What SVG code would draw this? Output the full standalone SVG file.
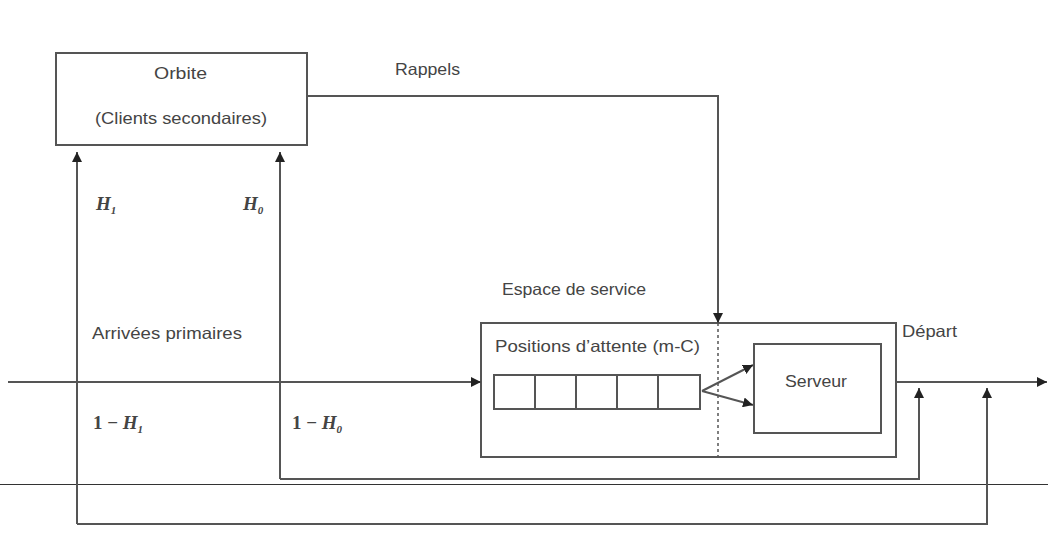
<svg xmlns="http://www.w3.org/2000/svg" width="1048" height="534" viewBox="0 0 1048 534">
<style>
.ln{fill:none;stroke:#555;stroke-width:2}
.bx{fill:#fff;stroke:#555;stroke-width:2}
.fr{fill:none;stroke:#555;stroke-width:2}
.t{font-family:"Liberation Sans",Arial,sans-serif;font-size:16.5px;fill:#444}
.m{font-family:"Liberation Serif","Times New Roman",serif;font-style:italic;font-weight:bold;font-size:19px;fill:#444}
.n{font-family:"Liberation Serif","Times New Roman",serif;font-weight:bold;font-size:19px;fill:#444}
.s{font-size:11px}
</style>
<defs>
<marker id="ah" viewBox="0 0 10 10" refX="10" refY="5" markerWidth="5" markerHeight="5" orient="auto" markerUnits="strokeWidth">
<path d="M0,0 L10,5 L0,10 z" fill="#222"/>
</marker>
</defs>
<rect width="1048" height="534" fill="#fff"/>
<line x1="0" y1="484.5" x2="1048" y2="484.5" stroke="#333" stroke-width="1"/>
<g id="orbite">
<rect class="bx" x="56" y="53" width="251" height="92"/>
<text class="t" x="154" y="79" textLength="53" lengthAdjust="spacingAndGlyphs">Orbite</text>
<text class="t" x="95" y="124" textLength="172" lengthAdjust="spacingAndGlyphs">(Clients secondaires)</text>
</g>
<g id="espace-service">
<rect class="fr" x="481" y="323" width="415" height="134"/>
<line x1="718" y1="323" x2="718" y2="457" stroke="#555" stroke-width="1.5" stroke-dasharray="3,3"/>
<text class="t" x="502" y="295" textLength="144" lengthAdjust="spacingAndGlyphs">Espace de service</text>
<text class="t" x="495" y="352" textLength="205" lengthAdjust="spacingAndGlyphs">Positions d’attente (m-C)</text>
</g>
<g id="file-attente">
<rect class="bx" x="494" y="375" width="206" height="34"/>
<line class="ln" x1="535" y1="375" x2="535" y2="409"/>
<line class="ln" x1="576" y1="375" x2="576" y2="409"/>
<line class="ln" x1="617" y1="375" x2="617" y2="409"/>
<line class="ln" x1="658" y1="375" x2="658" y2="409"/>
</g>
<g id="serveur">
<rect class="bx" x="754" y="344" width="127" height="89"/>
<text class="t" x="785" y="387" textLength="62" lengthAdjust="spacingAndGlyphs">Serveur</text>
</g>
<g id="connectors">
<path class="ln" d="M307,96 H718 V323" marker-end="url(#ah)"/>
<path class="ln" d="M8,382 H481" marker-end="url(#ah)"/>
<path class="ln" d="M896,382 H1047" marker-end="url(#ah)"/>
<path class="ln" d="M280,479 V152" marker-end="url(#ah)"/>
<path class="ln" d="M280,479 H919 V388" marker-end="url(#ah)"/>
<path class="ln" d="M77,524 V152" marker-end="url(#ah)"/>
<path class="ln" d="M77,524 H987 V388" marker-end="url(#ah)"/>
<path class="ln" d="M702,391 L753,365" marker-end="url(#ah)"/>
<path class="ln" d="M702,391 L753,405" marker-end="url(#ah)"/>
</g>
<g id="labels">
<text class="t" x="395" y="75" textLength="65" lengthAdjust="spacingAndGlyphs">Rappels</text>
<text class="t" x="92" y="339" textLength="150" lengthAdjust="spacingAndGlyphs">Arrivées primaires</text>
<text class="t" x="902" y="337" textLength="55" lengthAdjust="spacingAndGlyphs">Départ</text>
<text class="m" x="96" y="210">H<tspan class="s" dy="4">1</tspan></text>
<text class="m" x="243" y="210">H<tspan class="s" dy="4">0</tspan></text>
<text class="n" x="93" y="429">1 − <tspan font-style="italic">H</tspan><tspan class="s" dy="4" font-style="italic">1</tspan></text>
<text class="n" x="292" y="429">1 − <tspan font-style="italic">H</tspan><tspan class="s" dy="4" font-style="italic">0</tspan></text>
</g>
</svg>
